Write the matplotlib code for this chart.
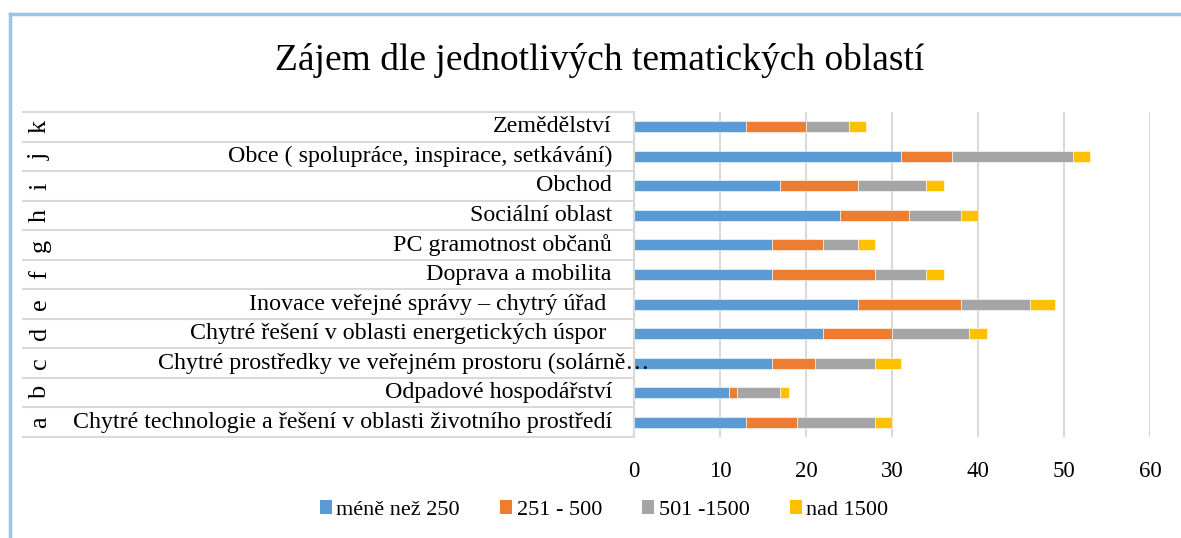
import matplotlib
matplotlib.use("Agg")
import matplotlib.pyplot as plt
from matplotlib.lines import Line2D
from matplotlib.patches import Patch

plt.rcParams['font.family'] = ['Liberation Serif', 'DejaVu Serif']

letters = ['a', 'b', 'c', 'd', 'e', 'f', 'g', 'h', 'i', 'j', 'k']
categories = [
    'Chytré technologie a řešení v oblasti životního prostředí',
    'Odpadové hospodářství',
    'Chytré prostředky ve veřejném prostoru (solárně…',
    'Chytré řešení v oblasti energetických úspor ',
    'Inovace veřejné správy – chytrý úřad ',
    'Doprava a mobilita',
    'PC gramotnost občanů',
    'Sociální oblast',
    'Obchod',
    'Obce ( spolupráce, inspirace, setkávání)',
    'Zemědělství',
]
series_names = ['méně než 250', '251 - 500', '501 -1500', 'nad 1500']
s_lt250 = [13, 11, 16, 22, 26, 16, 16, 24, 17, 31, 13]
s_251_500 = [6, 1, 5, 8, 12, 12, 6, 8, 9, 6, 7]
s_501_1500 = [9, 5, 7, 9, 8, 6, 4, 6, 8, 14, 5]
s_gt1500 = [2, 1, 3, 2, 3, 2, 2, 2, 2, 2, 2]
colors = ['#5B9BD5', '#ED7D31', '#A5A5A5', '#FFC000']
xticks = [0, 10, 20, 30, 40, 50, 60]

W, H = 1181, 538
fig = plt.figure(figsize=(W / 100, H / 100), dpi=100)

x0, x1 = 634, 1150
y0, y1 = 112, 437
ax = fig.add_axes([x0 / W, 1 - y1 / H, (x1 - x0) / W, (y1 - y0) / H])

n = len(categories)
ypos = list(range(n))
left = [0] * n
for vals, col, name in zip([s_lt250, s_251_500, s_501_1500, s_gt1500], colors, series_names):
    ax.barh(ypos, vals, left=left, height=0.37, color=col, label=name, zorder=3,
            edgecolor='white', linewidth=0.4)
    left = [a + b for a, b in zip(left, vals)]

ax.set_xlim(0, 60)
ax.set_ylim(-0.5, n - 0.5)
ax.set_xticks(xticks)
ax.set_xticklabels([str(t) for t in xticks], fontsize=16.5)
ax.tick_params(axis='x', length=0, pad=17)
ax.set_yticks([])
ax.grid(axis='x', color='#D9D9D9', linewidth=1.5, zorder=0)
for s in ['top', 'right', 'bottom']:
    ax.spines[s].set_visible(False)
ax.spines['left'].set_color('#D9D9D9')
ax.spines['left'].set_linewidth(1.5)
ax.spines['left'].set_zorder(4)

pw = x1 - x0
trans = ax.get_yaxis_transform()
xl = (23 - x0) / pw
for i in range(n + 1):
    ax.plot([xl, 0], [i - 0.5, i - 0.5], transform=trans, color='#D9D9D9',
            linewidth=1.5, clip_on=False)

for i, (let, cat) in enumerate(zip(letters, categories)):
    ax.text((40 - x0) / pw, i, let, transform=trans, rotation=90, ha='center',
            va='center', fontsize=19)
    xr = (612 - x0) / pw if i != 2 else (649 - x0) / pw
    ax.text(xr, i, cat, transform=trans, ha='right', va='center', fontsize=17.3)

fig.suptitle('Zájem dle jednotlivých tematických oblastí', x=0.508, y=1 - 60 / H,
             va='center', fontsize=27)

handles = [Patch(facecolor=c, edgecolor='none') for c in colors]
fig.legend(handles, series_names, loc='center', bbox_to_anchor=(604 / W, 1 - 510 / H),
           ncol=4, frameon=False, fontsize=16, handlelength=0.55, handleheight=0.55,
           handletextpad=0.2, columnspacing=1.8)

border = '#9DC3E6'
fig.add_artist(Line2D([10 / W, 10 / W], [0, 1 - 14 / H], transform=fig.transFigure,
                      color=border, linewidth=2.5))
fig.add_artist(Line2D([10 / W, 1], [1 - 14 / H, 1 - 14 / H], transform=fig.transFigure,
                      color=border, linewidth=2.5))

fig.savefig('out.png', dpi=100)
